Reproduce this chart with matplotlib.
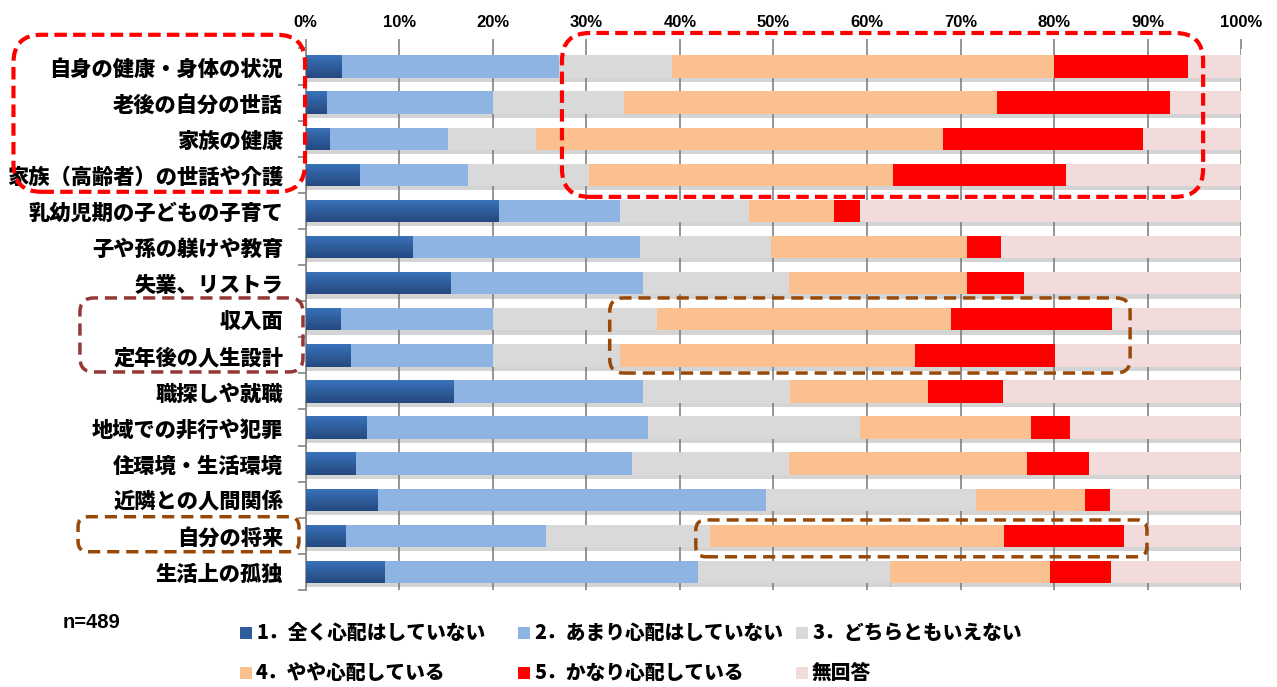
import numpy as np
import matplotlib
matplotlib.use("Agg")
import matplotlib.pyplot as plt
from matplotlib.patches import FancyBboxPatch, Rectangle
from matplotlib import patheffects as pe
from matplotlib.colors import LinearSegmentedColormap
from matplotlib.transforms import IdentityTransform

plt.rcParams["font.family"] = ["Noto Sans CJK JP", "DejaVu Sans"]

# ---- data (percent of respondents, n=489) ----
categories = [
    "自身の健康・身体の状況",
    "老後の自分の世話",
    "家族の健康",
    "家族（高齢者）の世話や介護",
    "乳幼児期の子どもの子育て",
    "子や孫の躾けや教育",
    "失業、リストラ",
    "収入面",
    "定年後の人生設計",
    "職探しや就職",
    "地域での非行や犯罪",
    "住環境・生活環境",
    "近隣との人間関係",
    "自分の将来",
    "生活上の孤独",
]
series_names = [
    "1．全く心配はしていない",
    "2．あまり心配はしていない",
    "3．どちらともいえない",
    "4．やや心配している",
    "5．かなり心配している",
    "無回答",
]
not_at_all = [3.8, 2.2, 2.5, 5.7, 20.6, 11.4, 15.4, 3.7, 4.8, 15.8, 6.5, 5.3, 7.6, 4.2, 8.4]
not_much = [23.3, 17.8, 12.7, 11.7, 13.0, 24.3, 20.7, 16.3, 15.2, 20.3, 30.1, 29.6, 41.6, 21.5, 33.5]
neutral = [12.1, 14.0, 9.4, 12.9, 13.8, 14.0, 15.6, 17.6, 13.6, 15.7, 22.6, 16.8, 22.4, 17.5, 20.6]
somewhat = [40.8, 39.9, 43.5, 32.5, 9.1, 21.0, 19.0, 31.4, 31.5, 14.7, 18.3, 25.4, 11.7, 31.4, 17.0]
very = [14.3, 18.5, 21.4, 18.5, 2.7, 3.6, 6.1, 17.2, 15.0, 8.0, 4.2, 6.6, 2.6, 12.9, 6.6]
no_answer = [5.7, 7.6, 10.5, 18.7, 40.8, 25.7, 23.2, 13.8, 19.9, 25.5, 18.3, 16.3, 14.1, 12.5, 13.9]
x_ticks = list(range(0, 101, 10))
sample_label = "n=489"

series = [not_at_all, not_much, neutral, somewhat, very, no_answer]
colors = ["#2F5D9C", "#8EB4E3", "#D9D9D9", "#FAC090", "#FF0000", "#F2DCDB"]

W, H = 1277, 687
fig = plt.figure(figsize=(W / 100, H / 100), dpi=100)
ax = fig.add_axes([305.5 / W, 1 - 590 / H, 936 / W, 541.5 / H])

grid_col = "#8C8C8C"
y = np.arange(len(categories))
left = np.zeros(len(categories))
shadow = [pe.SimplePatchShadow(offset=(0, -3), shadow_rgbFace="0.45", alpha=0.3), pe.Normal()]
containers = []
for vals, col, name in zip(series, colors, series_names):
    vals = np.asarray(vals, dtype=float)
    bars = ax.barh(y, vals, left=left, height=0.62, color=col, linewidth=0,
                   zorder=3, label=name)
    for b in bars:
        b.set_path_effects(shadow)
    containers.append(bars)
    left += vals

ax.set_xlim(0, 100)
ax.set_ylim(len(categories) - 0.5, -0.5)

# vertical gradient on the darkest segment
blue_cmap = LinearSegmentedColormap.from_list("db", ["#3A72BB", "#24497F"])
grad = np.linspace(0, 1, 64).reshape(-1, 1)
for b in containers[0]:
    x0, y0, w, h = b.get_x(), b.get_y(), b.get_width(), b.get_height()
    im = ax.imshow(grad, extent=[x0, x0 + w, y0 + h, y0], cmap=blue_cmap,
                   aspect="auto", zorder=3.5, interpolation="bilinear")
    im.set_clip_path(b)
ax.set_xlim(0, 100)
ax.set_ylim(len(categories) - 0.5, -0.5)

# axes styling
ax.xaxis.tick_top()
ax.set_xticks(x_ticks)
ax.set_xticklabels([f"{v}%" for v in x_ticks], family="Liberation Sans",
                   fontweight="bold", fontsize=12)
ax.tick_params(axis="x", which="major", length=7, color=grid_col, width=1.3, pad=6)
ax.xaxis.grid(True, color=grid_col, linewidth=1.3, zorder=0)
ax.set_axisbelow(True)

ax.set_yticks(y)
ax.set_yticklabels(categories, fontsize=15.3, fontweight="heavy")
ax.set_yticks(np.arange(-0.5, len(categories), 1), minor=True)
ax.tick_params(axis="y", which="major", length=0, pad=16)
ax.tick_params(axis="y", which="minor", length=6, color=grid_col, width=1.3)

for s in ["top", "right", "bottom"]:
    ax.spines[s].set_visible(False)
ax.spines["left"].set_color(grid_col)
ax.spines["left"].set_linewidth(1.3)

# dashed highlight frames (x in %, rows in category index units)
frames = [
    (-31.2, -0.05, -0.88, 3.47, "#FF0000", 3.0, 28, (3, 1.5)),
    (27.4, 95.9, -0.93, 3.61, "#FF0000", 3.0, 28, (3, 1.5)),
    (-24.1, -0.27, 6.41, 8.46, "#953735", 2.5, 14, (3.5, 2)),
    (32.5, 88.1, 6.41, 8.49, "#984807", 2.5, 14, (3.5, 2)),
    (-24.3, -0.7, 12.47, 13.44, "#984807", 2.5, 10, (3.5, 2)),
    (41.7, 89.9, 12.56, 13.58, "#984807", 2.5, 10, (3.5, 2)),
]
for x0, x1, r0, r1, col, lw, rad, dash in frames:
    px0, py0 = ax.transData.transform((x0, r1))
    px1, py1 = ax.transData.transform((x1, r0))
    box = FancyBboxPatch((px0, py0), px1 - px0, py1 - py0,
                         boxstyle=f"round,pad=0,rounding_size={rad}",
                         transform=IdentityTransform(), fill=False,
                         edgecolor=col, linewidth=lw, linestyle=(0, dash),
                         clip_on=False, zorder=10)
    fig.add_artist(box)

# sample size
fig.text(63 / W, 1 - 622 / H, sample_label, family="Liberation Sans",
         fontweight="bold", fontsize=14.5, ha="left", va="center")

# legend
leg_x = [240, 518, 796]
leg_y = [633, 673]
sq = 12
for i, (name, col) in enumerate(zip(series_names, colors)):
    cx = leg_x[i % 3]
    cy = leg_y[i // 3]
    fig.add_artist(Rectangle((cx / W, 1 - (cy + sq / 2) / H), sq / W, sq / H,
                             transform=fig.transFigure, facecolor=col,
                             edgecolor="none"))
    fig.text((cx + sq + 4) / W, 1 - cy / H, name, fontsize=14.2,
             fontweight="heavy", ha="left", va="center")

fig.savefig("out.png", dpi=100)
